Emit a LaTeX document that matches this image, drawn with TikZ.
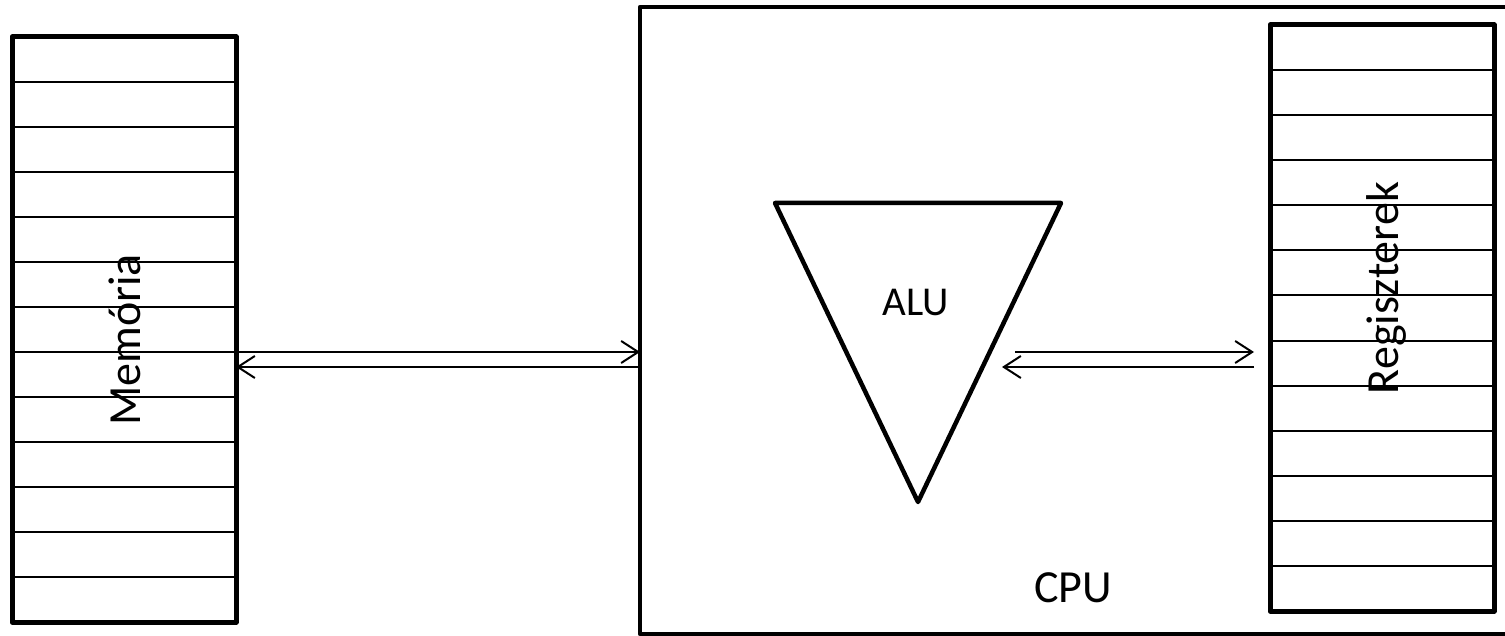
\documentclass[tikz,border=0pt]{standalone}
\usepackage{fontspec}
\setmainfont{Carlito}
\usetikzlibrary{calc,arrows.meta}

\tikzset{
  box/.style={draw,line width=5pt,line join=round,inner sep=0pt,outer sep=0pt},
  cell/.style={line width=2pt},
  bus/.style={line width=2pt,-{Straight Barb[length=17pt,width=22pt,line width=2pt]}},
  lbl/.style={font=\fontsize{46}{50}\selectfont,inner sep=0pt},
}

\begin{document}
\begin{tikzpicture}[x=1pt,y=-1pt]
      \useasboundingbox (0,0) rectangle (1505,636);
      % memoria
      \node[box,minimum width=224pt,minimum height=585pt] (mem) at (124,329.5) {};
      \foreach \k in {1,...,12} \draw[cell] ($(mem.north west)+(0,45*\k)$) -- ($(mem.north east)+(0,45*\k)$);
      \node[lbl,rotate=90,anchor=base] (memlbl) at (140,340) {Memória};
      % cpu
      \node[box,line width=4.5pt,minimum width=880pt,minimum height=627pt] (cpu) at (1080,320.5) {};
      \node[lbl,anchor=base] (cpulbl) at (1073,602) {CPU};
      % regiszterek
      \node[box,minimum width=224pt,minimum height=586pt] (reg) at (1382,318) {};
      \foreach \k in {1,...,12} \draw[cell] ($(reg.north west)+(0,45.08*\k)$) -- ($(reg.north east)+(0,45.08*\k)$);
      \node[lbl,rotate=90,anchor=base] (reglbl) at (1398,288) {Regiszterek};
      % alu
      \coordinate (a1) at (775,203);
      \coordinate (a2) at (1061,203);
      \coordinate (a3) at (918,502);
      \draw[line width=4.5pt,line join=round] (a1) -- (a2) -- (a3) -- cycle;
      \node[lbl,font=\fontsize{41}{45}\selectfont,anchor=base] (alu) at (916,316) {ALU};
      % buszok
      \coordinate (aluin) at (1015,352);
      \coordinate (aluout) at (1002,367);
      \coordinate (regin) at ($(reg.west)+(-16,0)$);
      \draw[bus] (mem.east |- aluin) -- (cpu.west |- aluin);
      \draw[bus] (cpu.west |- aluout) -- (mem.east |- aluout);
      \draw[bus] (aluin) -- (regin |- aluin);
      \draw[bus] (regin |- aluout) -- (aluout);
\end{tikzpicture}
\end{document}
